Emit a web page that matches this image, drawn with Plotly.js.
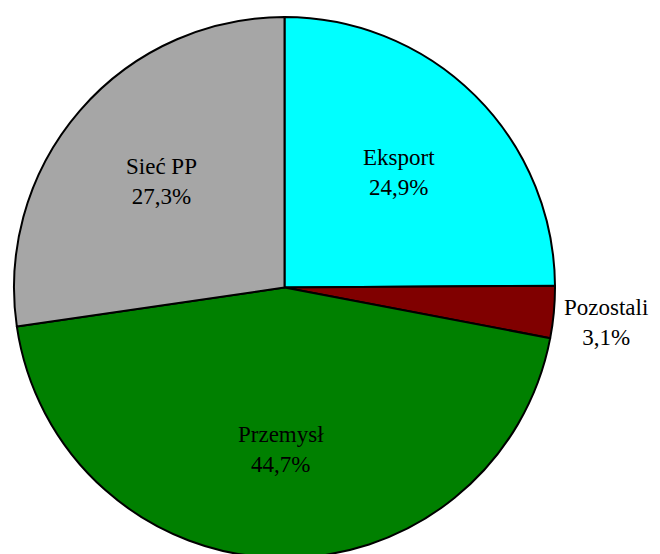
<!DOCTYPE html>
<html>
<head>
<meta charset="utf-8">
<script src="https://cdn.plot.ly/plotly-3.0.1.min.js"></script>
<style>
html,body{margin:0;padding:0;background:#fff;overflow:hidden;}
</style>
</head>
<body>
<div id="chart"></div>
<script>
var categories = ['Eksport', 'Pozostali', 'Przemysł', 'Sieć PP'];
var shares = [24.9, 3.1, 44.7, 27.3];
var colors = ['#00FFFF', '#800000', '#008000', '#A6A6A6'];
var labelInside = [true, false, true, true];

var FONT = 'Liberation Serif';

var trace = {
  type: 'pie',
  labels: categories,
  values: shares,
  sort: false,
  direction: 'clockwise',
  rotation: 0,
  marker: {colors: colors, line: {color: '#000000', width: 2}},
  textinfo: 'none',
  hoverinfo: 'none',
  showlegend: false
};

// labels placed along each slice's mid-angle (derived from the shares)
var total = shares.reduce(function (a, b) { return a + b; }, 0);
var annotations = [];
var cum = 0;
for (var i = 0; i < shares.length; i++) {
  var mid = (cum + shares[i] / 2) / total * 2 * Math.PI;
  cum += shares[i];
  var txt = categories[i] + '<br>' + shares[i].toFixed(1).replace('.', ',') + '%';
  var f = labelInside[i] ? 0.6 : 1.03;
  annotations.push({
    text: txt,
    xref: 'paper', yref: 'paper',
    x: 0.5 + 0.5 * f * Math.sin(mid),
    y: 0.5 + 0.5 * f * Math.cos(mid),
    showarrow: false,
    align: 'center',
    xanchor: labelInside[i] ? 'center' : 'left',
    yanchor: 'middle',
    yshift: labelInside[i] ? 0 : -10,
    font: {family: FONT, size: 23, color: '#000000'}
  });
}

var layout = {
  width: 660,
  height: 560,
  margin: {l: 14, r: 105, t: 17, b: 2},
  paper_bgcolor: '#ffffff',
  plot_bgcolor: '#ffffff',
  font: {family: FONT, size: 23, color: '#000000'},
  showlegend: false,
  annotations: annotations
};

Plotly.newPlot('chart', [trace], layout, {staticPlot: true, displayModeBar: false});
</script>
</body>
</html>
